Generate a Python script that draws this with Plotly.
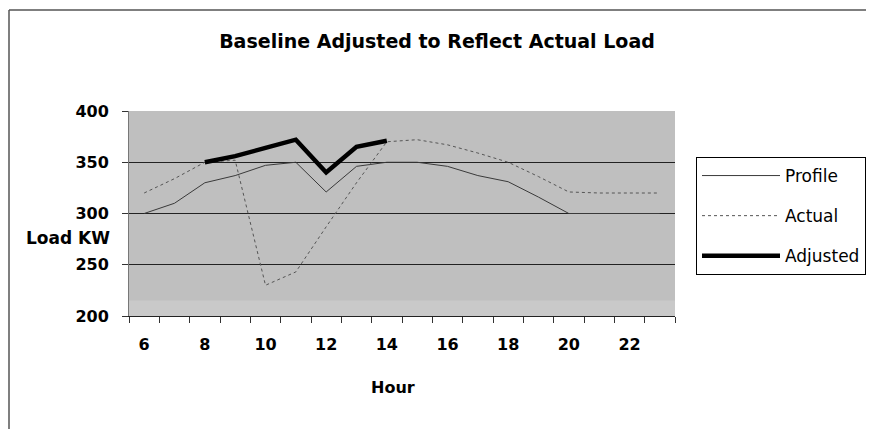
import plotly.graph_objects as go

hours = list(range(6, 24))
profile = [300, 310, 330, 337, 347, 350, 321, 346, 350, 350, 346, 337, 331, 316, 300, 300, 300, 300]
actual = [320, 334, 350, 352, 230, 243, 287, 330, 370, 372, 367, 359, 350, 336, 321, 320, 320, 320]
adjusted = [None, None, 350, 356, 364, 372, 340, 365, 371, None, None, None, None, None, None, None, None, None]
tick_hours = [6, 8, 10, 12, 14, 16, 18, 20, 22]
y_ticks = [200, 250, 300, 350, 400]

# page body has an 8px margin; work in screenshot pixels and shift
OFF = 8
W, H = 874 - OFF, 429 - OFF
L, R, T, B = 129 - OFF, 675 - OFF, 111 - OFF, 316 - OFF

def px(x):
    return (x - OFF - L) / (R - L)

def py(y):
    return (B - (y - OFF)) / (B - T)

fig = go.Figure()
fig.add_trace(go.Scatter(x=hours, y=profile, name="Profile", mode="lines",
                         line=dict(color="#3a3a3a", width=1), legendgroup="a"))
fig.add_trace(go.Scatter(x=hours, y=actual, name="Actual", mode="lines",
                         line=dict(color="#555555", width=1, dash="dot"), legendgroup="b"))
fig.add_trace(go.Scatter(x=hours, y=adjusted, name="Adjusted", mode="lines",
                         line=dict(color="#000000", width=4.5), legendgroup="c"))

fig.update_layout(
    width=W, height=H,
    margin=dict(l=L, r=W - R, t=T, b=H - B, autoexpand=False),
    paper_bgcolor="white",
    plot_bgcolor="#bfbfbf",
    title=dict(text="<b>Baseline Adjusted to Reflect Actual Load</b>", x=px(437), xref="paper",
               xanchor="center", y=1 - (41 - OFF) / H, yref="container", yanchor="middle",
               font=dict(family="DejaVu Sans", size=19, color="black")),
    showlegend=True,
    legend=dict(x=px(696), y=py(157), xanchor="left", yanchor="top",
                bgcolor="white", bordercolor="black", borderwidth=1,
                font=dict(family="DejaVu Sans", size=17, color="black"),
                itemwidth=78, tracegroupgap=15, traceorder="grouped"),
    xaxis=dict(range=[5.5, 23.5], tickmode="array", tickvals=tick_hours,
               ticktext=[str(h) for h in tick_hours], ticks="", showgrid=False,
               zeroline=False, showline=True, linecolor="#222", linewidth=1,
               tickfont=dict(family="DejaVu Sans", size=16, color="black", weight="bold"),
               ticklabelstandoff=14,
               minor=dict(tick0=5.5, dtick=1, ticks="outside", ticklen=6, tickcolor="#333",
                          showgrid=False)),
    yaxis=dict(range=[200, 400], tickmode="array", tickvals=y_ticks, ticks="outside",
               ticklen=6, tickcolor="#333", showgrid=True, gridcolor="#222", gridwidth=1,
               zeroline=False, showline=True, linecolor="#777", linewidth=1,
               tickfont=dict(family="DejaVu Sans", size=16, color="black", weight="bold"),
               ticklabelstandoff=10),
    shapes=[
        dict(type="rect", xref="paper", yref="y", x0=0, x1=1, y0=200, y1=215,
             fillcolor="#c9c9c9", line=dict(width=0), layer="below"),
        dict(type="line", xref="paper", yref="paper", x0=px(9), x1=px(9), y0=py(440), y1=py(10),
             line=dict(color="#555", width=1.5)),
        dict(type="line", xref="paper", yref="paper", x0=px(9), x1=px(880), y0=py(10), y1=py(10),
             line=dict(color="#555", width=1.5)),
    ],
    annotations=[
        dict(text="<b>Load KW</b>", xref="paper", yref="paper", x=px(112), y=py(238),
             xanchor="right", yanchor="middle", showarrow=False,
             font=dict(family="DejaVu Sans", size=17, color="black")),
        dict(text="<b>Hour</b>", xref="paper", yref="paper", x=px(393), y=py(387),
             xanchor="center", yanchor="middle", showarrow=False,
             font=dict(family="DejaVu Sans", size=16, color="black")),
    ],
)

fig.write_html("out.html")
